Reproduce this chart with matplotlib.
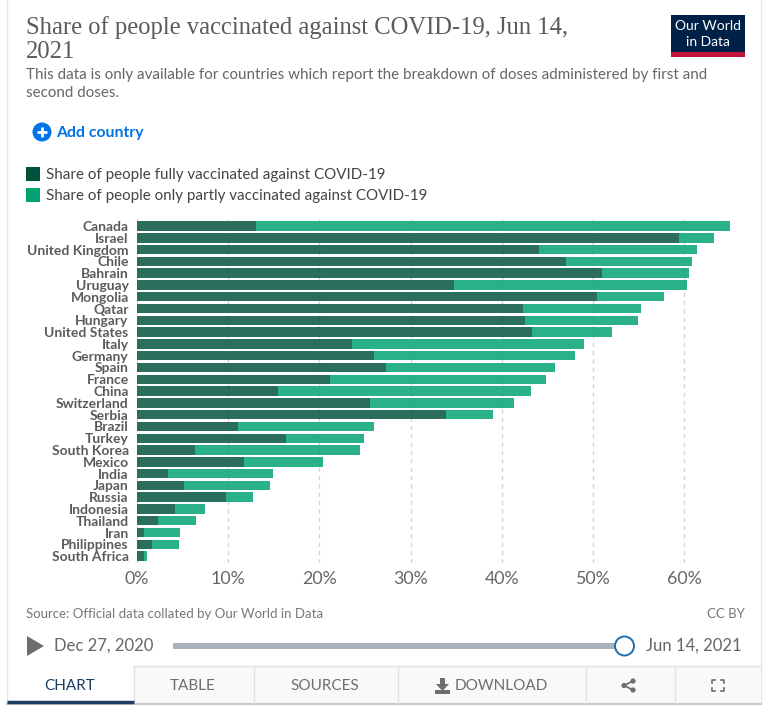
import matplotlib
matplotlib.use("Agg")
import matplotlib.pyplot as plt
from matplotlib.patches import Rectangle, Circle, Polygon
from matplotlib.transforms import ScaledTranslation

countries = ["Canada", "Israel", "United Kingdom", "Chile", "Bahrain", "Uruguay", "Mongolia", "Qatar",
             "Hungary", "United States", "Italy", "Germany", "Spain", "France", "China", "Switzerland",
             "Serbia", "Brazil", "Turkey", "South Korea", "Mexico", "India", "Japan", "Russia",
             "Indonesia", "Thailand", "Iran", "Philippines", "South Africa"]
fully = [13.0, 59.4, 44.1, 47.1, 51.0, 34.8, 50.5, 42.3, 42.6, 43.3, 23.6, 26.0, 27.3, 21.2, 15.5, 25.6,
         33.9, 11.1, 16.3, 6.4, 11.7, 3.4, 5.2, 9.8, 4.2, 2.3, 0.8, 1.7, 0.8]
total = [65.0, 63.3, 61.4, 60.9, 60.5, 60.3, 57.8, 55.3, 55.0, 52.1, 49.0, 48.0, 45.9, 44.9, 43.2, 41.3,
         39.0, 26.0, 24.9, 24.5, 20.4, 14.9, 14.6, 12.7, 7.5, 6.5, 4.7, 4.6, 1.1]
partly = [round(t - f, 1) for t, f in zip(total, fully)]
xticks = [0, 10, 20, 30, 40, 50, 60]
tabs = ["CHART", "TABLE", "SOURCES", "DOWNLOAD"]

W, H = 781, 708
DARK = "#00513c"
LIGHT = "#00a272"
GREY = "#5b5b5b"
plt.rcParams["font.family"] = ["Lato", "DejaVu Sans"]

fig = plt.figure(figsize=(W / 100, H / 100), dpi=100)

# page furniture in pixel coordinates
bg = fig.add_axes([0, 0, 1, 1])
bg.set_xlim(0, W)
bg.set_ylim(H, 0)
bg.axis("off")

bg.plot([7, 7], [0, 703], color="#e6e6e6", lw=1)
bg.plot([760.5, 760.5], [0, 703], color="#e6e6e6", lw=1)
bg.plot([7, 761], [703.5, 703.5], color="#c9c9c9", lw=1.5)

bg.text(26, 28, "Share of people vaccinated against COVID-19, Jun 14,", family="Liberation Serif",
        fontsize=17.7, color="#5b5b5b", va="center")
bg.text(26, 52, "2021", family="Liberation Serif", fontsize=17.7, color="#5b5b5b", va="center")
bg.text(26, 75, "This data is only available for countries which report the breakdown of doses administered by first and",
        fontsize=10.88, color="#666666", va="center")
bg.text(26, 93, "second doses.", fontsize=10.88, color="#666666", va="center")

# logo
bg.add_patch(Rectangle((671, 15), 74, 42, color="#002147", lw=0))
bg.add_patch(Rectangle((671, 52), 74, 5, color="#c0143c", lw=0))
bg.text(708, 26, "Our World", color="white", fontsize=10, ha="center", va="center")
bg.text(708, 42, "in Data", color="white", fontsize=10, ha="center", va="center")

# add country
bg.add_patch(Circle((42, 132), 9.5, color="#0073e6", lw=0))
bg.plot([37, 47], [132, 132], color="white", lw=2, solid_capstyle="butt")
bg.plot([42, 42], [127, 137], color="white", lw=2, solid_capstyle="butt")
bg.text(56, 132.5, "Add country", color="#0073e6", fontsize=11.3, fontweight="bold", va="center")

# legend
bg.add_patch(Rectangle((26, 167), 14, 14, color=DARK, lw=0))
bg.add_patch(Rectangle((26, 188), 14, 14, color=LIGHT, lw=0))
bg.text(46, 175, "Share of people fully vaccinated against COVID-19", fontsize=10.86, color="#444444", va="center")
bg.text(46, 196, "Share of people only partly vaccinated against COVID-19", fontsize=10.86, color="#444444", va="center")

# footer
bg.text(26, 614, "Source: Official data collated by Our World in Data", fontsize=9.55, color="#777777", va="center")
bg.text(745, 614, "CC BY", fontsize=9.55, color="#777777", va="center", ha="right")

# timeline
bg.add_patch(Polygon([(27, 636), (27, 656), (44, 646)], color="#6e6e6e", lw=0))
bg.text(54, 646, "Dec 27, 2020", fontsize=12, color="#666666", va="center")
bg.add_patch(Rectangle((173, 643), 452, 6, color="#a9b1ba", lw=0))
bg.add_patch(Circle((624.5, 646), 9.5, facecolor="white", edgecolor="#1d6fb0", lw=1.4, zorder=3))
bg.text(742, 646, "Jun 14, 2021", fontsize=12, color="#666666", va="center", ha="right")

# tabs
tab_edges = [7, 134, 254, 398, 586, 675, 760]
bg.add_patch(Rectangle((134, 666), 626, 37, color="#f9f9f9", lw=0))
bg.plot([134, 760], [665.5, 665.5], color="#e2e2e2", lw=1)
for e in tab_edges[1:-1]:
    bg.plot([e, e], [666, 703], color="#e2e2e2", lw=1)
bg.plot([7, 134], [702, 702], color="#1d3d63", lw=2.5, solid_capstyle="butt")
bg.text(70, 685.5, tabs[0], fontsize=11, color="#1d3d63", ha="center", va="center")
bg.text(193, 685.5, tabs[1], fontsize=11, color="#6e6e6e", ha="center", va="center")
bg.text(325, 685.5, tabs[2], fontsize=11, color="#6e6e6e", ha="center", va="center")
bg.text(501, 685.5, tabs[3], fontsize=11, color="#6e6e6e", ha="center", va="center")

# download icon
bg.add_patch(Rectangle((435, 690), 15, 4, color="#6e6e6e", lw=0))
bg.add_patch(Polygon([(440, 678), (445, 678), (445, 684), (449, 684), (442.5, 691), (436, 684), (440, 684)],
                     color="#6e6e6e", lw=0))
# share icon
bg.plot([633, 624, 633], [681, 685.5, 690], color="#6e6e6e", lw=1.3)
for cx, cy in [(633, 681), (624, 685.5), (633, 690)]:
    bg.add_patch(Circle((cx, cy), 2.6, color="#6e6e6e", lw=0))
# fullscreen icon
for sx, sy in [(712, 680), (724, 680), (712, 691), (724, 691)]:
    dx = 3 if sx == 712 else -3
    dy = 3 if sy == 680 else -3
    bg.plot([sx + dx, sx, sx], [sy, sy, sy + dy], color="#6e6e6e", lw=1.2)

# chart
left, right, top, bottom = 137, 740, 219, 563
ax = fig.add_axes([left / W, 1 - bottom / H, (right - left) / W, (bottom - top) / H])
ax.patch.set_alpha(0)
ypos = list(range(len(countries)))
ax.barh(ypos, fully, height=0.8, color=DARK, alpha=0.83, lw=0, zorder=3)
ax.barh(ypos, partly, left=fully, height=0.8, color=LIGHT, alpha=0.83, lw=0, zorder=3)
ax.set_xlim(0, (right - left) / 9.117)
ax.set_ylim((bottom - 226) / 11.79, (top - 226) / 11.79)
ax.set_xticks(xticks)
ax.set_xticklabels([f"{v}%" for v in xticks], fontsize=12.8, color="#666666")
ax.set_yticks(ypos)
ax.set_yticklabels(countries, fontsize=10, color=GREY, fontweight="bold")
nudge = ScaledTranslation(0, 1 / 100, fig.dpi_scale_trans)
for lab in ax.get_yticklabels():
    lab.set_transform(lab.get_transform() + nudge)
ax.tick_params(axis="both", length=0)
ax.tick_params(axis="y", pad=6)
ax.tick_params(axis="x", pad=6)
ax.grid(axis="x", color="#d5d5d5", linestyle=(0, (3, 3)), lw=1, zorder=0)
ax.set_axisbelow(True)
for s in ax.spines.values():
    s.set_visible(False)

fig.savefig("out.png", dpi=100)
